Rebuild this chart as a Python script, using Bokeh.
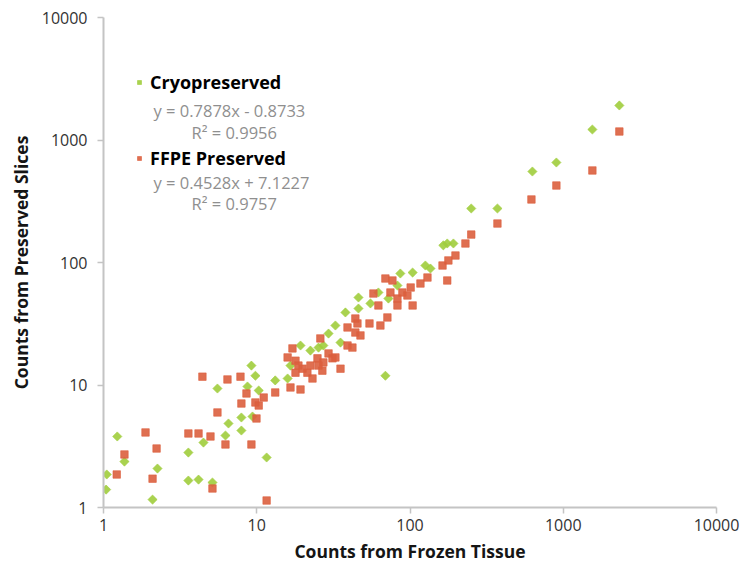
import numpy as np
from bokeh.plotting import figure
from bokeh.models import (ColumnDataSource, FixedTicker, CustomJSTickFormatter,
                          Legend, LegendItem, Label, Range1d)
from bokeh.embed import file_html
from bokeh.resources import INLINE

# Cryopreserved counts (x: frozen tissue, y: preserved slices)
cryo_x = [1.05, 1.04, 1.23, 1.37, 2.09, 2.25, 3.58, 3.58, 4.17, 5.14,
          4.49, 6.54, 6.25, 7.94, 7.94, 11.6, 9.23, 9.8, 8.7, 10.3,
          5.54, 13.2, 15.9, 16.6, 9.38, 19.3, 22.4, 25.3, 27.2, 29.4,
          32.6, 37.9, 46.1, 46.1, 55.2, 62.2, 86.5, 104, 126, 136,
          175, 192, 165, 69.1, 35.2, 72.3, 82.8, 251, 372, 629,
          902, 1549, 2323]
cryo_y = [1.86, 1.40, 3.80, 2.37, 1.16, 2.08, 2.81, 1.66, 1.69, 1.60,
          3.39, 4.85, 3.87, 5.43, 4.25, 2.56, 14.4, 11.9, 9.72, 9.02,
          9.36, 10.9, 11.3, 14.4, 5.53, 21.0, 19.1, 20.2, 21.0, 26.3,
          30.6, 39.1, 51.8, 42.1, 46.3, 56.9, 81.3, 82.8, 94.5, 89.3,
          143, 143, 138, 11.9, 22.2, 50.8, 64.9, 276, 276, 553,
          655, 1218, 1914]

# FFPE preserved counts
ffpe_x = [4.42, 6.44, 7.83, 8.57, 7.94, 9.8, 10.3, 11.1, 5.54, 13.2,
          16.6, 15.9, 17.1, 1.88, 3.58, 4.17, 4.99, 6.25, 9.23, 9.96,
          2.22, 1.37, 1.22, 2.09, 5.14, 11.6, 17.9, 18.7, 17.9, 19.9,
          21.4, 23.1, 22.4, 19.3, 24.9, 26.0, 25.3, 26.8, 27.2, 29.4,
          31.2, 32.6, 35.2, 39.1, 39.1, 42.1, 44.0, 45.4, 69.1, 76.8,
          57.7, 62.2, 74.5, 82.8, 82.8, 89.2, 96.2, 101, 104, 117,
          130, 163, 178, 198, 175, 54.4, 64.1, 71.2, 44.0, 47.5,
          230, 251, 372, 620, 902, 1549, 2323]
ffpe_y = [11.7, 11.1, 11.7, 8.53, 7.06, 7.2, 6.8, 7.9, 5.97, 8.69,
          9.55, 16.8, 19.9, 4.10, 4.02, 4.02, 3.80, 3.27, 3.27, 5.33,
          3.03, 2.71, 1.86, 1.72, 1.43, 1.14, 15.8, 14.4, 12.6, 13.6,
          12.6, 11.3, 14.4, 9.19, 16.5, 24.0, 14.4, 13.1, 15.3, 18.1,
          16.5, 16.8, 13.6, 29.5, 21.0, 20.2, 26.8, 31.8, 74.0, 71.3,
          55.8, 44.6, 56.9, 50.8, 44.6, 56.9, 53.8, 62.5, 44.6, 67.4,
          75.4, 94.5, 104, 114, 71.3, 31.8, 30.6, 35.6, 34.9, 25.4,
          143, 169, 208, 327, 425, 564, 1173]

tick_values = [1, 10, 100, 1000, 10000]
series_names = ["Cryopreserved", "FFPE Preserved"]
fit_texts = ["y = 0.7878x - 0.8733", "R\u00b2 = 0.9956",
             "y = 0.4528x + 7.1227", "R\u00b2 = 0.9757"]

FONT = "Open Sans"
GREEN = "#a0cd3c"
RED = "#dc5f3e"

p = figure(frame_width=613, frame_height=490,
           x_axis_type="log", y_axis_type="log",
           x_range=Range1d(1, 10000), y_range=Range1d(1, 10000),
           output_backend="svg", toolbar_location=None,
           min_border_left=103, min_border_right=37,
           min_border_top=17, min_border_bottom=58)
p.outline_line_color = None
p.background_fill_color = "white"
p.border_fill_color = "white"
p.xgrid.visible = False
p.ygrid.visible = False

src_c = ColumnDataSource(dict(x=cryo_x, y=cryo_y))
src_f = ColumnDataSource(dict(x=ffpe_x, y=ffpe_y))
rc = p.scatter("x", "y", source=src_c, marker="square", size=6.5,
               angle=np.pi / 4, fill_color=GREEN, line_color=GREEN,
               fill_alpha=0.9, line_alpha=0.6)
rf = p.scatter("x", "y", source=src_f, marker="square", size=7.5,
               fill_color=RED, line_color=RED, fill_alpha=0.9, line_alpha=0.6)

for ax in (p.xaxis[0], p.yaxis[0]):
    ax.ticker = FixedTicker(ticks=tick_values)
    ax.formatter = CustomJSTickFormatter(code="return tick.toFixed(0);")
    ax.axis_line_color = "#c4c4c4"
    ax.axis_line_width = 2
    ax.major_tick_line_color = "#c4c4c4"
    ax.major_tick_line_width = 1.5
    ax.minor_tick_line_color = None
    ax.major_label_text_font = FONT
    ax.major_label_text_font_size = "16px"
    ax.major_label_text_color = "#333333"
    ax.axis_label_text_font = FONT
    ax.axis_label_text_font_style = "bold"
    ax.axis_label_text_font_size = "17.5px"
    ax.axis_label_text_color = "#151515"
    ax.major_tick_in = 0
    ax.major_tick_out = 6

p.xaxis.axis_label = "Counts from Frozen Tissue"
p.yaxis.axis_label = "Counts from Preserved Slices"
p.xaxis.major_label_standoff = 5
p.xaxis.axis_label_standoff = 5
p.yaxis.major_label_standoff = 10
p.yaxis.axis_label_standoff = 6

legend = Legend(items=[LegendItem(label=series_names[0], renderers=[rc]),
                       LegendItem(label=series_names[1], renderers=[rf])],
                location=(31, 337), padding=0, margin=0, spacing=52,
                glyph_width=10, glyph_height=20, label_height=20,
                label_standoff=6, border_line_color=None,
                background_fill_alpha=0,
                label_text_font=FONT, label_text_font_style="bold",
                label_text_font_size="18px", label_text_color="#000000")
p.add_layout(legend)

label_pos = [(50, 397), (88, 375), (50, 325), (88, 304)]
for txt, (lx, ly) in zip(fit_texts, label_pos):
    p.add_layout(Label(x=lx, y=ly, x_units="screen", y_units="screen",
                       text=txt, text_font=FONT, text_font_size="16.5px",
                       text_color="#8f8f8f", text_baseline="middle"))

open("out.html", "w").write(file_html(p, INLINE))
